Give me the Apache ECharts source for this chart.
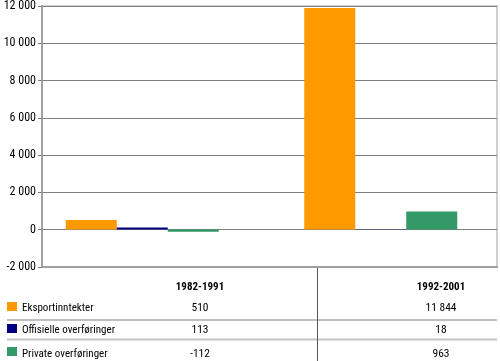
<!DOCTYPE html>
<html>
<head>
<meta charset="utf-8">
<script src="https://cdn.jsdelivr.net/npm/echarts@6/dist/echarts.min.js"></script>
<style>
html,body{margin:0;padding:0;background:#fff;}
#c{width:500px;height:361px;}
</style>
</head>
<body>
<div id="c"></div>
<script>
var categories = ['1982-1991', '1992-2001'];
var seriesNames = ['Eksportinntekter', 'Offisielle overføringer', 'Private overføringer'];
var eksport = [510, 11844];
var offisielle = [113, 18];
var privat = [-112, 963];
var colors = ['#FF9900', '#000080', '#339966'];
var yMin = -2000, yMax = 12000, yStep = 2000;

var FONT = '"Roboto Condensed", "Liberation Sans", sans-serif';

function fmt(n) {
  var s = String(Math.abs(n)).replace(/\B(?=(\d{3})+(?!\d))/g, ' ');
  return (n < 0 ? '-' : '') + s;
}

var allSeries = [eksport, offisielle, privat];

var chart = echarts.init(document.getElementById('c'), null, {renderer: 'canvas'});

// table graphics
var graphics = [];
var rowY = [308, 330, 354];
var squareY = [302, 324, 347];
var colX = [200, 441];
graphics.push({type: 'line', shape: {x1: 7, y1: 320, x2: 497, y2: 320}, style: {stroke: '#808080', lineWidth: 1}});
graphics.push({type: 'line', shape: {x1: 7, y1: 339.5, x2: 497, y2: 339.5}, style: {stroke: '#c4c4c4', lineWidth: 2}});
graphics.push({type: 'line', shape: {x1: 317.5, y1: 268, x2: 317.5, y2: 361}, style: {stroke: '#555', lineWidth: 1}});
categories.forEach(function (c, i) {
  graphics.push({type: 'text', x: colX[i], y: 287, style: {text: c, font: 'bold 11px ' + FONT, fill: '#000', align: 'center', verticalAlign: 'middle'}});
});
seriesNames.forEach(function (name, r) {
  graphics.push({type: 'rect', shape: {x: 7, y: squareY[r], width: 10, height: 9}, style: {fill: colors[r]}});
  graphics.push({type: 'text', x: 22, y: rowY[r], style: {text: name, font: '11px ' + FONT, fill: '#000', align: 'left', verticalAlign: 'middle'}});
  categories.forEach(function (c, i) {
    graphics.push({type: 'text', x: colX[i], y: rowY[r], style: {text: fmt(allSeries[r][i]), font: '11.5px ' + FONT, fill: '#000', align: 'center', verticalAlign: 'middle'}});
  });
});

var option = {
  animation: false,
  backgroundColor: '#fff',
  grid: [
    {left: 42, right: 3, top: 5, bottom: 94, show: true, borderColor: '#cfcfcf', borderWidth: 2, backgroundColor: 'transparent'},
    {left: 23, right: 0, top: 5, bottom: 94}
  ],
  xAxis: [
    {type: 'category', gridIndex: 0, data: categories, axisLine: {onZero: false, lineStyle: {color: '#a0a0a0', width: 2}}, axisTick: {show: false}, axisLabel: {show: false}, splitLine: {show: false}},
    {type: 'category', gridIndex: 1, data: categories, axisLine: {show: false}, axisTick: {show: false}, axisLabel: {show: false}, splitLine: {show: false}}
  ],
  yAxis: [
    {type: 'value', gridIndex: 0, min: yMin, max: yMax, interval: yStep,
     axisLine: {show: true, lineStyle: {color: '#a0a0a0', width: 2}},
     axisTick: {show: true, length: 4, lineStyle: {color: '#808080'}},
     axisLabel: {color: '#000', fontSize: 12, fontFamily: FONT, margin: 6, formatter: function (v) { return fmt(v); }},
     splitLine: {show: true, lineStyle: {color: '#808080', width: 1}}},
    {type: 'value', gridIndex: 1, min: yMin, max: yMax, interval: yStep, show: false, splitLine: {show: false}}
  ],
  series: seriesNames.map(function (name, i) {
    return {
      name: name, type: 'bar', xAxisIndex: 1, yAxisIndex: 1,
      data: allSeries[i], barWidth: 51, barGap: '0%',
      itemStyle: {color: colors[i]}
    };
  }),
  graphic: graphics
};
chart.setOption(option);
</script>
</body>
</html>
